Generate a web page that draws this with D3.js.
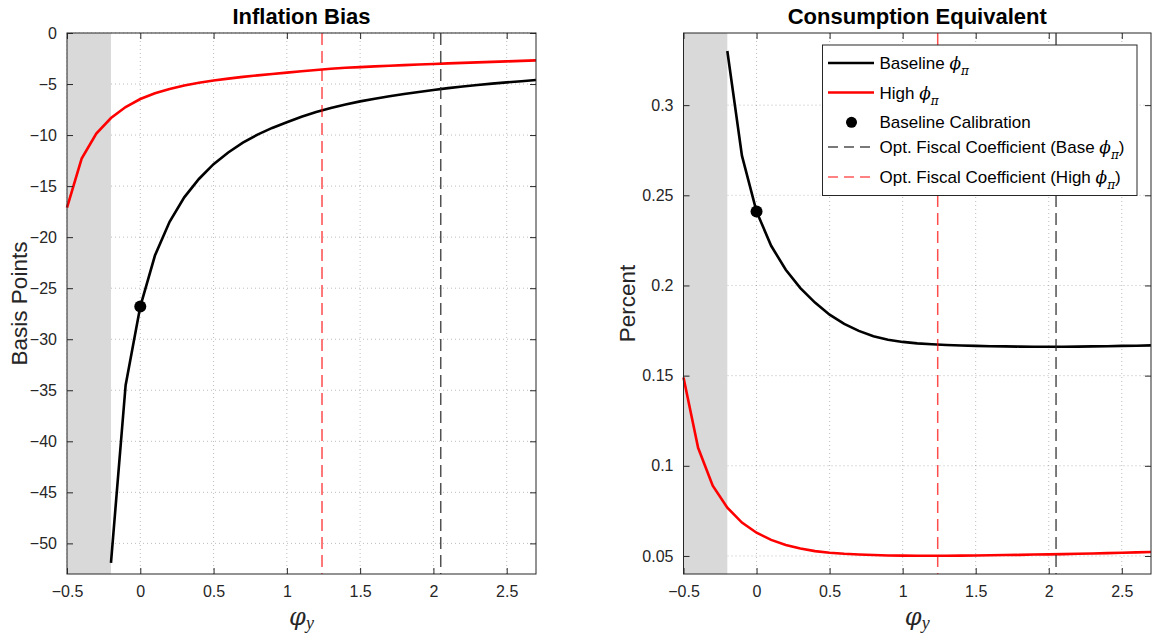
<!DOCTYPE html>
<html>
<head>
<meta charset="utf-8">
<title>Inflation Bias and Consumption Equivalent</title>
<script src="https://d3js.org/d3.v7.min.js"></script>
<style>
    body { margin: 0; background: #ffffff; }
    svg text { font-family: 'Liberation Sans', Arial, Helvetica, sans-serif; fill: #262626; }
    .math { font-family: 'DejaVu Serif', 'Liberation Serif', serif; font-style: italic; }
</style>
</head>
<body>
<div id="chart"></div>
<script>
// fiscal coefficient grid (x values)
const phiBase = [-0.2, -0.1, 0, 0.1, 0.2, 0.3, 0.4, 0.5, 0.6, 0.7, 0.8, 0.9, 1.0, 1.1, 1.2, 1.3,
    1.4, 1.5, 1.6, 1.7, 1.8, 1.9, 2.0, 2.1, 2.2, 2.3, 2.4, 2.5, 2.6, 2.7];
const phiHigh = [-0.5, -0.4, -0.3, -0.2, -0.1, 0, 0.1, 0.2, 0.3, 0.4, 0.5, 0.6, 0.7, 0.8, 0.9, 1.0,
    1.1, 1.2, 1.3, 1.4, 1.5, 1.6, 1.7, 1.8, 1.9, 2.0, 2.1, 2.2, 2.3, 2.4, 2.5, 2.6, 2.7];

// inflation bias, basis points
const biasBase = [-51.9, -34.5, -26.8, -21.8, -18.5, -16.1, -14.3, -12.85, -11.7, -10.75, -9.95,
    -9.3, -8.75, -8.2, -7.75, -7.35, -7.0, -6.7, -6.45, -6.2, -5.98, -5.78, -5.58, -5.4, -5.24,
    -5.1, -4.96, -4.84, -4.72, -4.61];
const biasHigh = [-17.1, -12.3, -9.85, -8.33, -7.25, -6.47, -5.9, -5.48, -5.15, -4.88, -4.66,
    -4.47, -4.3, -4.15, -4.02, -3.88, -3.74, -3.62, -3.5, -3.41, -3.34, -3.27, -3.21, -3.15,
    -3.09, -3.03, -2.98, -2.93, -2.88, -2.83, -2.78, -2.73, -2.68];

// consumption equivalent, percent
const ceBase = [0.330, 0.272, 0.241, 0.222, 0.2087, 0.1985, 0.1905, 0.1838, 0.1787, 0.1748,
    0.1718, 0.1699, 0.1687, 0.1679, 0.1674, 0.167, 0.1667, 0.1665, 0.1663, 0.1662, 0.1661,
    0.166, 0.166, 0.166, 0.1661, 0.1662, 0.1663, 0.1665, 0.1666, 0.1668];
const ceHigh = [0.149, 0.110, 0.089, 0.0768, 0.0685, 0.0629, 0.0589, 0.0561, 0.0541, 0.0527,
    0.0518, 0.0512, 0.0508, 0.0505, 0.0503, 0.0502, 0.0501, 0.0501, 0.0501, 0.0502, 0.0503,
    0.0504, 0.0505, 0.0506, 0.0508, 0.0509, 0.051, 0.0512, 0.0514, 0.0516, 0.0518, 0.052, 0.0522];

const calibPhi = 0;
const calibBias = -26.8;
const calibCE = 0.241;
const optBase = 2.05;
const optHigh = 1.24;
const shadeRange = [-0.5, -0.2];

const xTicks = [-0.5, 0, 0.5, 1, 1.5, 2, 2.5];
const biasTicks = [0, -5, -10, -15, -20, -25, -30, -35, -40, -45, -50];
const ceTicks = [0.05, 0.1, 0.15, 0.2, 0.25, 0.3];

const legendItems = ["Baseline", "High", "Baseline Calibration",
    "Opt. Fiscal Coefficient (Base ", "Opt. Fiscal Coefficient (High "];

const W = 1153, H = 637;
const plotTop = 33, plotBottom = 574;

const svg = d3.select("#chart").append("svg")
    .attr("width", W).attr("height", H);

function drawPanel(cfg) {
    const x = d3.scaleLinear().domain([-0.5, 2.7]).range([cfg.left, cfg.right]);
    const y = d3.scaleLinear().domain(cfg.yDomain).range([plotBottom, plotTop]);
    const g = svg.append("g");

    // grid
    g.append("g").selectAll("line").data(xTicks).enter().append("line")
        .attr("x1", d => x(d)).attr("x2", d => x(d))
        .attr("y1", plotTop).attr("y2", plotBottom)
        .attr("stroke", "#262626").attr("stroke-opacity", 0.3)
        .attr("stroke-dasharray", "1,3");
    g.append("g").selectAll("line").data(cfg.yTicks).enter().append("line")
        .attr("x1", cfg.left).attr("x2", cfg.right)
        .attr("y1", d => y(d)).attr("y2", d => y(d))
        .attr("stroke", "#262626").attr("stroke-opacity", 0.3)
        .attr("stroke-dasharray", "1,3");

    // shaded region
    g.append("rect")
        .attr("x", x(shadeRange[0])).attr("width", x(shadeRange[1]) - x(shadeRange[0]))
        .attr("y", plotTop).attr("height", plotBottom - plotTop)
        .attr("fill", "#d9d9d9");

    const line = d3.line().x(d => x(d[0])).y(d => y(d[1]));

    g.append("path")
        .datum(d3.zip(phiBase, cfg.base))
        .attr("d", line).attr("fill", "none")
        .attr("stroke", "#000").attr("stroke-width", 2.6);
    g.append("path")
        .datum(d3.zip(phiHigh, cfg.high))
        .attr("d", line).attr("fill", "none")
        .attr("stroke", "#ff0000").attr("stroke-width", 2.6);

    // optimal coefficient lines
    g.append("line")
        .attr("x1", x(optHigh)).attr("x2", x(optHigh)).attr("y1", plotTop).attr("y2", plotBottom)
        .attr("stroke", "#ff0000").attr("stroke-opacity", 0.7)
        .attr("stroke-width", 1.5).attr("stroke-dasharray", "12,6");
    g.append("line")
        .attr("x1", x(optBase)).attr("x2", x(optBase)).attr("y1", plotTop).attr("y2", plotBottom)
        .attr("stroke", "#262626").attr("stroke-opacity", 0.8)
        .attr("stroke-width", 1.5).attr("stroke-dasharray", "12,6");

    g.append("circle")
        .attr("cx", x(calibPhi)).attr("cy", y(cfg.calib)).attr("r", 6)
        .attr("fill", "#000");

    // axes, ticks on all four sides pointing in
    const ax = g.append("g").attr("class", "axes");
    ax.append("g").attr("transform", `translate(0,${plotBottom})`)
        .call(d3.axisBottom(x).tickValues(xTicks).tickSizeInner(-6).tickSizeOuter(0)
            .tickPadding(12).tickFormat(d3.format("")));
    ax.append("g").attr("transform", `translate(0,${plotTop})`)
        .call(d3.axisTop(x).tickValues(xTicks).tickSizeInner(-6).tickSizeOuter(0)
            .tickFormat(""));
    ax.append("g").attr("transform", `translate(${cfg.left},0)`)
        .call(d3.axisLeft(y).tickValues(cfg.yTicks).tickSizeInner(-6).tickSizeOuter(0)
            .tickPadding(10).tickFormat(d3.format("")));
    ax.append("g").attr("transform", `translate(${cfg.right},0)`)
        .call(d3.axisRight(y).tickValues(cfg.yTicks).tickSizeInner(-6).tickSizeOuter(0)
            .tickFormat(""));
    ax.selectAll(".domain").remove();
    ax.selectAll(".tick line").attr("stroke", "#262626");
    ax.selectAll(".tick text")
        .style("font-family", "'Liberation Sans', Arial, sans-serif")
        .style("font-size", "16px").attr("fill", "#262626");
    g.append("rect")
        .attr("x", cfg.left).attr("y", plotTop)
        .attr("width", cfg.right - cfg.left).attr("height", plotBottom - plotTop)
        .attr("fill", "none").attr("stroke", "#262626").attr("stroke-width", 1);

    const cx = (cfg.left + cfg.right) / 2;
    g.append("text").attr("x", cx).attr("y", 24)
        .attr("text-anchor", "middle")
        .style("font-size", "22px").style("font-weight", "bold").style("fill", "#000")
        .text(cfg.title);

    g.append("text")
        .attr("transform", `translate(${cfg.labelX},${(plotTop + plotBottom) / 2}) rotate(-90)`)
        .attr("text-anchor", "middle").attr("dy", "0.35em")
        .style("font-size", "22.5px")
        .text(cfg.ylabel);

    const xl = g.append("text").attr("x", cx).attr("y", 625)
        .attr("text-anchor", "middle").attr("class", "math");
    xl.append("tspan").style("font-size", "24px").text("φ");
    xl.append("tspan").attr("dy", 4)
        .style("font-family", "'Liberation Serif', serif").style("font-size", "18px").text("y");

    return { x, y, g };
}

drawPanel({
    left: 67, right: 536, yDomain: [-53, 0], yTicks: biasTicks,
    base: biasBase, high: biasHigh, calib: calibBias,
    title: "Inflation Bias", ylabel: "Basis Points", labelX: 19
});

drawPanel({
    left: 683.5, right: 1151, yDomain: [0.04, 0.34], yTicks: ceTicks,
    base: ceBase, high: ceHigh, calib: calibCE,
    title: "Consumption Equivalent", ylabel: "Percent", labelX: 627
});

// legend
const lg = svg.append("g");
lg.append("rect").attr("x", 822.5).attr("y", 45).attr("width", 314.5).attr("height", 150.5)
    .attr("fill", "#fff").attr("stroke", "#262626").attr("stroke-width", 1);
const rowBase = [69, 98.5, 128.3, 153, 183];
const sample = [
    { type: "line", color: "#000", dash: null, width: 2.6 },
    { type: "line", color: "#ff0000", dash: null, width: 2.6 },
    { type: "dot" },
    { type: "line", color: "#4d4d4d", dash: "10,6", width: 1.5 },
    { type: "line", color: "#ff5a5a", dash: "10,6", width: 1.5 }
];
legendItems.forEach((label, i) => {
    const cy = rowBase[i] - 6;
    const s = sample[i];
    if (s.type === "line") {
        lg.append("line").attr("x1", 828).attr("x2", 874).attr("y1", cy).attr("y2", cy)
            .attr("stroke", s.color).attr("stroke-width", s.width)
            .attr("stroke-dasharray", s.dash);
    } else {
        lg.append("circle").attr("cx", 851.5).attr("cy", cy).attr("r", 5.5).attr("fill", "#000");
    }
    const t = lg.append("text").attr("x", 879.5).attr("y", rowBase[i])
        .style("font-size", "17px").style("fill", "#000");
    t.append("tspan").text(label + (i === 2 ? "" : " "));
    if (i !== 2) {
        t.append("tspan").attr("class", "math").style("font-size", "17px").text("ϕ");
        t.append("tspan").attr("class", "math").attr("dy", 6).style("font-size", "12px").text("π");
        if (i > 2) t.append("tspan").attr("dy", -6).text(")");
    }
});
</script>
</body>
</html>
